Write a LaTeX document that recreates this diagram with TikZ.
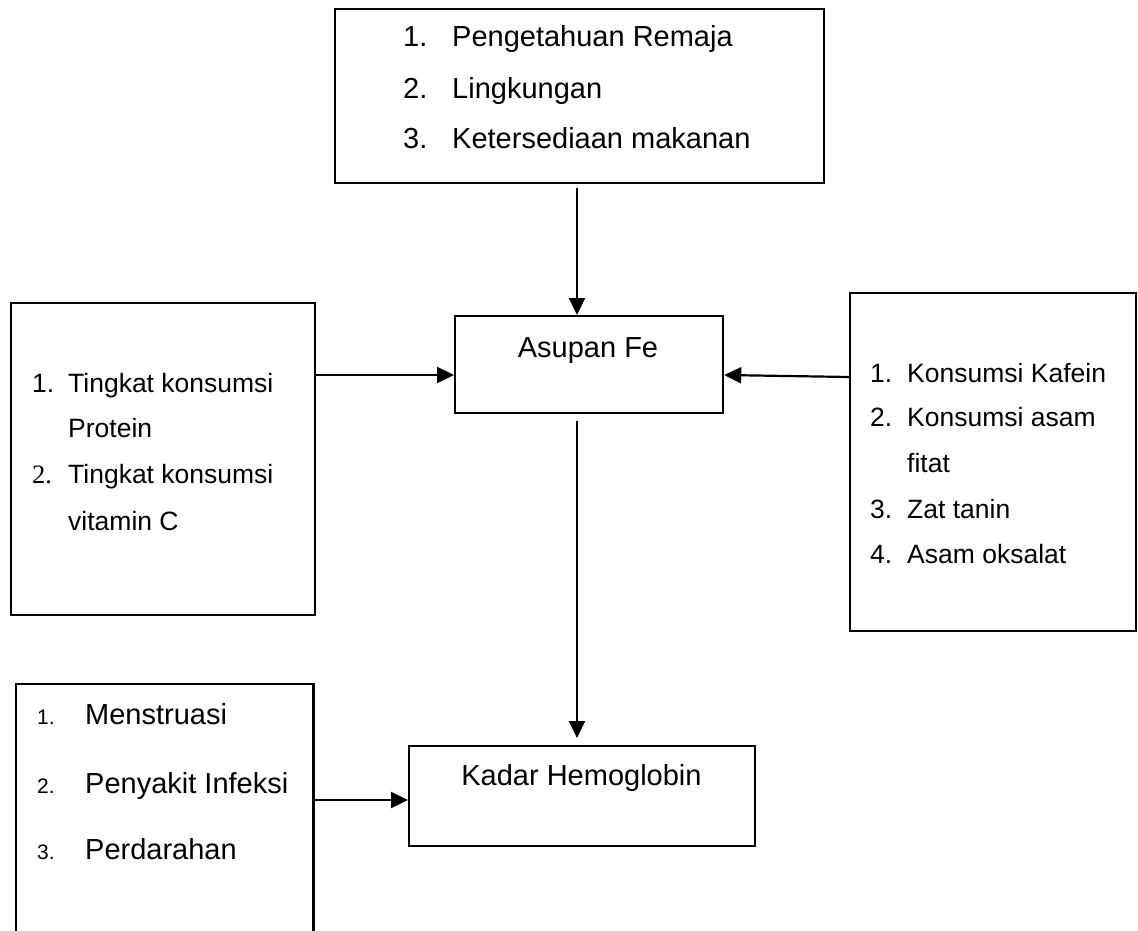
\documentclass[tikz,border=0pt]{standalone}
\usepackage{fontspec}
\setmainfont{Liberation Sans}
\newfontfamily\serifnum{Liberation Serif}
\usetikzlibrary{arrows.meta}
\newcommand\fbig{\fontsize{29}{34}\selectfont}
\newcommand\fmid{\fontsize{26.5}{31}\selectfont}
\newcommand\fsml{\fontsize{21}{25}\selectfont}
\begin{document}
\begin{tikzpicture}[x=1pt,y=-1pt,
  box/.style={draw, line width=2.2pt, inner sep=0pt, anchor=north west},
  openbox/.style={inner sep=0pt, anchor=north west},
  txt/.style={anchor=base west, inner sep=0pt},
  ctxt/.style={anchor=base, inner sep=0pt},
  arr/.style={-{Triangle[length=17pt,width=16pt]}, line width=2.2pt}]
\useasboundingbox (0,0) rectangle (1138,931);
% boxes
\node[box, minimum width=489pt, minimum height=174pt] (top) at (334,8) {};
\node[box, minimum width=268pt, minimum height=97pt] (asupan) at (454,315) {};
\node[box, minimum width=304pt, minimum height=312pt] (lb) at (10,302) {};
\node[box, minimum width=286pt, minimum height=338pt] (rb) at (849,292) {};
\node[box, minimum width=346pt, minimum height=100pt] (kadar) at (408,745) {};
\node[openbox, minimum width=297pt, minimum height=247pt] (bl) at (16,684) {};
\draw[line width=2.2pt] (bl.south west) -- (bl.north west) -- (bl.north east) -- (bl.south east);
% top box text
\begin{scope}[font=\fbig]
\node[txt] (tn1) at (403,47) {1.};
\node[txt] (tt1) at (452,47) {Pengetahuan Remaja};
\node[txt] (tn2) at (403,99) {2.};
\node[txt] (tt2) at (452,99) {Lingkungan};
\node[txt] (tn3) at (403,149) {3.};
\node[txt] (tt3) at (452,149) {Ketersediaan makanan};
\node[ctxt] (asl) at (588,357) {Asupan Fe};
\node[ctxt] (kdl) at (581.5,785) {Kadar Hemoglobin};
\node[txt] (bt1) at (85,724) {Menstruasi};
\node[txt] (bt2) at (85,793) {Penyakit Infeksi};
\node[txt] (bt3) at (85,859) {Perdarahan};
\end{scope}
\begin{scope}[font=\fsml]
\node[txt] (bn1) at (37,724) {1.};
\node[txt] (bn2) at (37,793) {2.};
\node[txt] (bn3) at (37,859) {3.};
\end{scope}
% left box text
\begin{scope}[font=\fmid]
\node[txt] (ln1) at (32,392) {1.};
\node[txt] (lt1) at (68,392) {Tingkat konsumsi};
\node[txt] (lt2) at (68,437) {Protein};
\node[txt, font=\fmid\serifnum] (ln2) at (32,483) {2.};
\node[txt] (lt3) at (68,483) {Tingkat konsumsi};
\node[txt] (lt4) at (68,530) {vitamin C};
% right box text
\node[txt] (rn1) at (870,382) {1.};
\node[txt] (rt1) at (907,382) {Konsumsi Kafein};
\node[txt] (rn2) at (870,426) {2.};
\node[txt] (rt2) at (907,426) {Konsumsi asam};
\node[txt] (rt3) at (907,472) {fitat};
\node[txt] (rn3) at (870,518) {3.};
\node[txt] (rt4) at (907,518) {Zat tanin};
\node[txt] (rn4) at (870,563) {4.};
\node[txt] (rt5) at (907,563) {Asam oksalat};
\end{scope}
% connectors
\coordinate (c1) at (577,188);
\draw[arr] (c1) -- (c1 |- asupan.north);
\coordinate (c2) at (0,375);
\coordinate (c3) at (0,377);
\draw[arr] (lb.east |- c2) -- (asupan.west |- c2);
\draw[arr] (rb.west |- c3) -- (asupan.east |- c2);
\coordinate (c4) at (577,421);
\coordinate (c5) at (577,738);
\draw[arr] (c4) -- (c5);
\coordinate (c6) at (0,800);
\draw[arr] (bl.east |- c6) -- (kadar.west |- c6);
\end{tikzpicture}
\end{document}
